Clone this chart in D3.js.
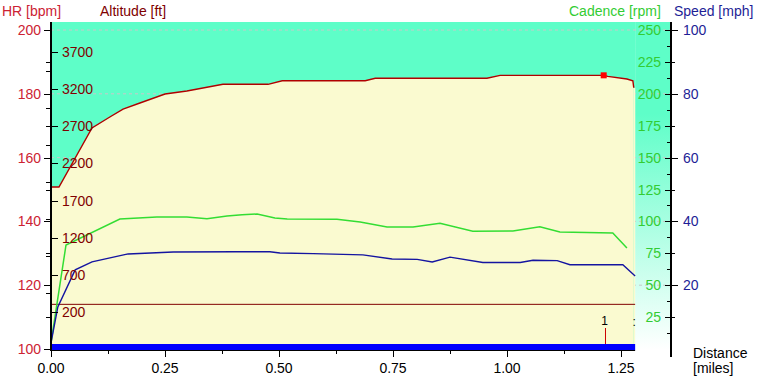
<!DOCTYPE html>
<html><head><meta charset="utf-8">
<script src="https://cdn.jsdelivr.net/npm/d3@7"></script>
<style>body{margin:0;background:#fff}svg{display:block;font-family:"Liberation Sans",Arial,sans-serif}</style>
</head><body><svg id="c" width="758" height="379"></svg>
<script>
// ---- data ----
const altDist = [0, 0.0175, 0.0899, 0.129, 0.158, 0.195, 0.25, 0.298, 0.377, 0.476, 0.507, 0.689, 0.711, 0.956, 0.985, 1.211, 1.221, 1.263, 1.276, 1.278];
const altitude = [1883, 1883, 2677, 2825, 2932, 3013, 3134, 3175, 3265, 3265, 3313, 3313, 3346, 3346, 3386, 3386, 3372, 3336, 3313, 3219];
const cadDist = [0, 0.0329, 0.151, 0.232, 0.298, 0.342, 0.386, 0.419, 0.452, 0.491, 0.518, 0.627, 0.678, 0.737, 0.794, 0.853, 0.925, 1.013, 1.072, 1.116, 1.232, 1.263];
const cadence = [5, 81.5, 101.9, 103.4, 103.4, 102.1, 104.2, 105.3, 105.8, 102.7, 101.9, 101.6, 99.5, 95.6, 95.6, 98.5, 92.2, 92.5, 95.8, 91.7, 90.9, 79.2];
const spdDist = [0, 0.015, 0.053, 0.0899, 0.169, 0.268, 0.404, 0.480, 0.502, 0.575, 0.684, 0.748, 0.803, 0.836, 0.875, 0.947, 1.029, 1.057, 1.110, 1.138, 1.254, 1.281];
const speed = [1.9, 13.2, 24.8, 27.3, 29.8, 30.4, 30.5, 30.5, 30.1, 29.9, 29.5, 28.2, 28.1, 27.3, 28.8, 27.1, 27.1, 27.8, 27.7, 26.4, 26.4, 22.9];
const hrThreshold = [114];
const maxDist = 1.281;
const markerDist = [1.211];   // red square on altitude
const lapDist = [1.216];
const lapLabels = ["1"];
const endLabel = [":"];
const xTicks = [0, 0.25, 0.5, 0.75, 1.0, 1.25];
const xMinor = [0.125, 0.375, 0.625, 0.875, 1.125];
const hrTicks = [100, 120, 140, 160, 180, 200];
const hrMinor = [110, 130, 150, 170, 190];
const altTicks = [200, 700, 1200, 1700, 2200, 2700, 3200, 3700];
const altMinor = [450, 950, 1450, 1950, 2450, 2950, 3450];
const cadTicks = [25, 50, 75, 100, 125, 150, 175, 200, 225, 250];
const cadMinor = [12.5, 37.5, 62.5, 87.5, 112.5, 137.5, 162.5, 187.5, 212.5, 237.5];
const spdTicks = [20, 40, 60, 80, 100];
const spdMinor = [10, 30, 50, 70, 90];

// ---- colours ----
const TEAL = "#5efec8", YEL = "#fafad0";
const C_HR = "#cc2233", C_ALT = "#800000", C_ALTLINE = "#b00000", C_CAD = "#33cc33", C_CADLINE = "#33dd33",
      C_SPD = "#1e1e96", C_SPDLINE = "#1414a0";

const svg = d3.select("#c");
const x = d3.scaleLinear().domain([0, 1.25]).range([51, 621]);
const yHR = d3.scaleLinear().domain([100, 200]).range([349, 30]);
const yAlt = d3.scaleLinear().domain([200, 3700]).range([312, 52]);
const yCad = d3.scaleLinear().domain([0, 250]).range([349, 30]);
const ySpd = d3.scaleLinear().domain([0, 100]).range([349, 30]);

const L = 51, T = 22, B = 350, R = x(maxDist), RA = 671;

// backgrounds
const defs = svg.append("defs");
const g = defs.append("linearGradient").attr("id", "strip").attr("x1", 0).attr("y1", 0).attr("x2", 0).attr("y2", 1);
g.append("stop").attr("offset", 0).attr("stop-color", TEAL);
g.append("stop").attr("offset", 0.28).attr("stop-color", TEAL);
g.append("stop").attr("offset", 1).attr("stop-color", "#ffffff");
svg.append("rect").attr("x", L).attr("y", T).attr("width", R - L).attr("height", B - T).attr("fill", TEAL);
svg.append("rect").attr("x", R).attr("y", T).attr("width", RA - R).attr("height", B - T).attr("fill", "url(#strip)");

// grid
svg.append("g").selectAll("line").data(hrTicks.filter(d => d > 100)).join("line")
  .attr("x1", L).attr("x2", RA).attr("y1", d => yHR(d)).attr("y2", d => yHR(d))
  .attr("stroke", "#c8c8c8").attr("stroke-dasharray", "3,3").attr("stroke-width", 1);

// altitude area
const altPts = altDist.map((d, i) => [d, altitude[i]]);
svg.append("path").datum(altPts)
  .attr("d", d3.area().x(d => x(d[0])).y0(B).y1(d => yAlt(d[1])))
  .attr("fill", YEL);
svg.append("rect").attr("x", x(altDist[altDist.length - 1])).attr("y", yAlt(altitude[altitude.length - 1]))
  .attr("width", R - x(altDist[altDist.length - 1])).attr("height", B - yAlt(altitude[altitude.length - 1])).attr("fill", YEL);

// HR threshold
svg.append("g").selectAll("line").data(hrThreshold).join("line")
  .attr("x1", L).attr("x2", R).attr("y1", d => yHR(d)).attr("y2", d => yHR(d))
  .attr("stroke", "#800000").attr("stroke-width", 1);

// altitude line
svg.append("path").datum(altPts)
  .attr("d", d3.line().x(d => x(d[0])).y(d => yAlt(d[1])))
  .attr("fill", "none").attr("stroke", C_ALTLINE).attr("stroke-width", 1.4);
// marker
svg.append("g").selectAll("rect").data(markerDist).join("rect")
  .attr("x", d => x(d) - 2.5).attr("y", yAlt(3386) - 3).attr("width", 6).attr("height", 6).attr("fill", "#ff0000");

// cadence
svg.append("path").datum(cadDist.map((d, i) => [d, cadence[i]]))
  .attr("d", d3.line().x(d => x(d[0])).y(d => yCad(d[1])))
  .attr("fill", "none").attr("stroke", C_CADLINE).attr("stroke-width", 1.5);
// speed
svg.append("path").datum(spdDist.map((d, i) => [d, speed[i]]))
  .attr("d", d3.line().x(d => x(d[0])).y(d => ySpd(d[1])))
  .attr("fill", "none").attr("stroke", C_SPDLINE).attr("stroke-width", 1.4);

// laps
svg.append("g").selectAll("line").data(lapDist).join("line")
  .attr("x1", d => x(d)).attr("x2", d => x(d)).attr("y1", 328).attr("y2", 344)
  .attr("stroke", "#cc0000").attr("stroke-width", 1);
svg.append("g").selectAll("text").data(lapDist).join("text")
  .attr("x", d => x(d) - 1).attr("y", 325).attr("text-anchor", "middle")
  .attr("font-size", 12).attr("fill", "#000").text((d, i) => lapLabels[i]);
svg.append("text").attr("x", x(maxDist) - 1).attr("y", 326).attr("text-anchor", "middle")
  .attr("font-size", 12).attr("fill", "#000").text(endLabel[0]);

// blue bottom bar
svg.append("rect").attr("x", L).attr("y", B - 6).attr("width", R - L).attr("height", 6).attr("fill", "#0000ff");

// axes lines
svg.append("line").attr("x1", L).attr("x2", L).attr("y1", T).attr("y2", B + 1).attr("stroke", "#000").attr("stroke-width", 2);
svg.append("line").attr("x1", RA).attr("x2", RA).attr("y1", T).attr("y2", 357).attr("stroke", "#000").attr("stroke-width", 2);
svg.append("line").attr("x1", L).attr("x2", R).attr("y1", B + 0.5).attr("y2", B + 0.5).attr("stroke", "#000").attr("stroke-width", 1);

function ticks(data, scale, x1, x2, color) {
  svg.append("g").selectAll("line").data(data).join("line")
    .attr("x1", x1).attr("x2", x2).attr("y1", d => Math.round(scale(d)) + 0.5).attr("y2", d => Math.round(scale(d)) + 0.5)
    .attr("stroke", color || "#000").attr("stroke-width", 1);
}
// left axis
ticks(hrTicks, yHR, 44, 51);
ticks(hrMinor, yHR, 46, 51);
ticks(altMinor, yAlt, 46, 51);
ticks(altTicks, yAlt, 51, 58);
svg.append("g").selectAll("text").data(hrTicks).join("text")
  .attr("x", 41).attr("y", d => yHR(d)).attr("dy", "0.36em").attr("text-anchor", "end")
  .attr("font-size", 14).attr("fill", C_HR).text(d => d);
svg.append("g").selectAll("text").data(altTicks).join("text")
  .attr("x", 62).attr("y", d => yAlt(d)).attr("dy", "0.36em")
  .attr("font-size", 14).attr("fill", C_ALT).text(d => d);
// right axis
ticks(cadTicks, yCad, 665, 671);
ticks(cadMinor, yCad, 667, 671);
ticks(spdTicks, ySpd, 671, 678);
ticks(spdMinor, ySpd, 671, 675);
svg.append("g").selectAll("text").data(cadTicks).join("text")
  .attr("x", 661).attr("y", d => yCad(d)).attr("dy", "0.36em").attr("text-anchor", "end")
  .attr("font-size", 14).attr("fill", C_CAD).text(d => d);
svg.append("g").selectAll("text").data(spdTicks).join("text")
  .attr("x", 683).attr("y", d => ySpd(d)).attr("dy", "0.36em")
  .attr("font-size", 14).attr("fill", C_SPD).text(d => d);
// bottom axis
svg.append("g").selectAll("line").data(xTicks).join("line")
  .attr("x1", d => Math.round(x(d)) + 0.5).attr("x2", d => Math.round(x(d)) + 0.5).attr("y1", B).attr("y2", 357).attr("stroke", "#000");
svg.append("g").selectAll("line").data(xMinor).join("line")
  .attr("x1", d => Math.round(x(d)) + 0.5).attr("x2", d => Math.round(x(d)) + 0.5).attr("y1", B).attr("y2", 354).attr("stroke", "#000");
svg.append("g").selectAll("text").data(xTicks).join("text")
  .attr("x", d => x(d)).attr("y", 373).attr("text-anchor", "middle")
  .attr("font-size", 14).attr("fill", "#000").text(d => d3.format(".2f")(d));

// titles
svg.append("text").attr("x", 2).attr("y", 16).attr("font-size", 14).attr("fill", C_HR).text("HR [bpm]");
svg.append("text").attr("x", 100).attr("y", 16).attr("font-size", 14).attr("fill", C_ALT).text("Altitude [ft]");
svg.append("text").attr("x", 569).attr("y", 16).attr("font-size", 14).attr("fill", C_CAD).text("Cadence [rpm]");
svg.append("text").attr("x", 674).attr("y", 16).attr("font-size", 14).attr("fill", C_SPD).text("Speed [mph]");
svg.append("text").attr("x", 693).attr("y", 358).attr("font-size", 14).attr("fill", "#000").text("Distance");
svg.append("text").attr("x", 693).attr("y", 373).attr("font-size", 14).attr("fill", "#000").text("[miles]");
</script></body></html>
